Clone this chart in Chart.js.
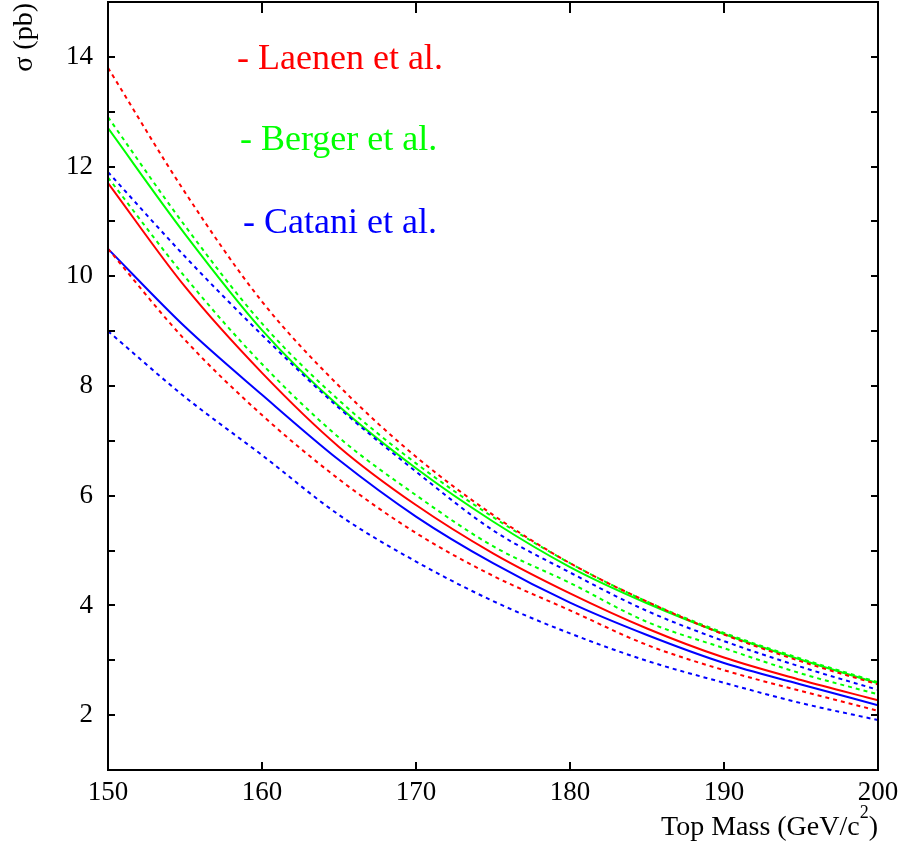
<!DOCTYPE html>
<html>
<head>
<meta charset="utf-8">
<script src="https://cdn.jsdelivr.net/npm/chart.js@4.4.1/dist/chart.umd.min.js"></script>
<style>
    body { margin: 0; background: #fff; }
    #wrap { width: 902px; height: 848px; }
</style>
</head>
<body>
<div id="wrap"><canvas id="myChart"></canvas></div>
<script>
// top mass (GeV/c^2)
const masses = [150, 155, 160, 165, 170, 175, 180, 185, 190, 195, 200];

// cross sections (pb)
const laenen     = [11.7, 9.81, 8.24, 6.89, 5.83, 4.95, 4.22, 3.58, 3.05, 2.64, 2.27];
const laenenUp   = [13.8, 11.53, 9.54, 8.0, 6.71, 5.65, 4.77, 4.07, 3.47, 2.98, 2.56];
const laenenDown = [10.5, 8.84, 7.47, 6.30, 5.32, 4.54, 3.91, 3.28, 2.82, 2.44, 2.08];

const berger     = [12.7, 10.77, 9.02, 7.63, 6.50, 5.53, 4.70, 4.04, 3.48, 3.01, 2.58];
const bergerUp   = [12.9, 10.92, 9.14, 7.74, 6.59, 5.61, 4.77, 4.07, 3.50, 3.03, 2.60];
const bergerDown = [11.8, 9.99, 8.40, 7.06, 6.01, 5.08, 4.41, 3.70, 3.22, 2.76, 2.38];

const catani     = [10.5, 9.08, 7.84, 6.65, 5.62, 4.77, 4.05, 3.46, 2.95, 2.56, 2.18];
const cataniUp   = [11.9, 10.36, 8.93, 7.60, 6.44, 5.37, 4.60, 3.90, 3.35, 2.88, 2.46];
const cataniDown = [9.0, 7.80, 6.74, 5.65, 4.80, 4.08, 3.49, 2.99, 2.59, 2.22, 1.91];

const xTicks = [150, 160, 170, 180, 190, 200];
const yLabels = [2, 4, 6, 8, 10, 12, 14];

const labels = [
    { text: '- Laenen et al.', color: '#ff0000', x: 237, y: 69 },
    { text: '- Berger et al.', color: '#00ff00', x: 240, y: 150 },
    { text: '- Catani et al.', color: '#0000ff', x: 243, y: 233 }
];

const SERIF = '"Liberation Serif", "Times New Roman", serif';

function pts(vals) {
    return vals.map((v, i) => ({ x: masses[i], y: v }));
}

function serie(vals, color, dashed) {
    return {
        data: pts(vals),
        borderColor: color,
        borderWidth: 2,
        borderDash: dashed ? [4, 4] : [],
        pointRadius: 0,
        cubicInterpolationMode: 'monotone',
        fill: false
    };
}

// frame, inward ticks on all sides, annotations and axis titles
const framePlugin = {
    id: 'frame',
    afterDatasetsDraw(chart) {
        const ctx = chart.ctx;
        const a = chart.chartArea;
        const xs = chart.scales.x, ys = chart.scales.y;
        ctx.save();
        ctx.strokeStyle = '#000';
        ctx.lineWidth = 2;
        ctx.strokeRect(a.left, a.top, a.right - a.left, a.bottom - a.top);

        ctx.beginPath();
        xTicks.forEach(t => {
            const px = Math.round(xs.getPixelForValue(t));
            ctx.moveTo(px, a.bottom); ctx.lineTo(px, a.bottom - 8);
            ctx.moveTo(px, a.top); ctx.lineTo(px, a.top + 11);
        });
        for (let v = 2; v <= 14; v++) {
            const py = Math.round(ys.getPixelForValue(v));
            ctx.moveTo(a.left, py); ctx.lineTo(a.left + 7, py);
            ctx.moveTo(a.right, py); ctx.lineTo(a.right - 7, py);
        }
        ctx.stroke();

        // author labels
        ctx.font = '36px ' + SERIF;
        ctx.textAlign = 'left';
        ctx.textBaseline = 'alphabetic';
        labels.forEach(l => {
            ctx.fillStyle = l.color;
            ctx.fillText(l.text, l.x, l.y);
        });

        // x title with superscript
        ctx.fillStyle = '#000';
        ctx.font = '28px ' + SERIF;
        const p1 = 'Top Mass (GeV/c', p3 = ')';
        const w1 = ctx.measureText(p1).width;
        const w3 = ctx.measureText(p3).width;
        ctx.font = '18px ' + SERIF;
        const w2 = ctx.measureText('2').width;
        let x0 = a.right - (w1 + w2 + w3);
        ctx.font = '28px ' + SERIF;
        ctx.fillText(p1, x0, 835);
        ctx.fillText(p3, x0 + w1 + w2, 835);
        ctx.font = '18px ' + SERIF;
        ctx.fillText('2', x0 + w1, 818);

        // y title
        ctx.font = '28px ' + SERIF;
        ctx.translate(32, 3);
        ctx.rotate(-Math.PI / 2);
        ctx.textAlign = 'right';
        ctx.fillText('σ (pb)', 0, 0);
        ctx.restore();
    }
};

document.addEventListener('DOMContentLoaded', function () {
    const ctx = document.getElementById('myChart').getContext('2d');

    new Chart(ctx, {
        type: 'line',
        data: {
            datasets: [
                serie(laenenUp, '#ff0000', true),
                serie(laenenDown, '#ff0000', true),
                serie(bergerUp, '#00ff00', true),
                serie(bergerDown, '#00ff00', true),
                serie(cataniUp, '#0000ff', true),
                serie(cataniDown, '#0000ff', true),
                serie(laenen, '#ff0000', false),
                serie(berger, '#00ff00', false),
                serie(catani, '#0000ff', false)
            ]
        },
        options: {
            responsive: true,
            maintainAspectRatio: false,
            animation: false,
            layout: { padding: { top: 2, right: 24, left: 0, bottom: 0 } },
            plugins: {
                legend: { display: false },
                tooltip: { enabled: false }
            },
            scales: {
                x: {
                    type: 'linear',
                    min: 150,
                    max: 200,
                    afterFit: s => { s.height = 78; s.paddingLeft = 0; s.paddingRight = 0; },
                    afterBuildTicks: s => { s.ticks = xTicks.map(v => ({ value: v })); },
                    grid: { display: false, drawTicks: false },
                    border: { display: false },
                    ticks: {
                        color: '#000',
                        font: { family: SERIF, size: 27 },
                        padding: 7,
                        maxRotation: 0
                    }
                },
                y: {
                    min: 1,
                    max: 15,
                    afterFit: s => { s.width = 108; s.paddingTop = 0; s.paddingBottom = 0; },
                    afterBuildTicks: s => { s.ticks = yLabels.map(v => ({ value: v })); },
                    grid: { display: false, drawTicks: false },
                    border: { display: false },
                    ticks: {
                        color: '#000',
                        font: { family: SERIF, size: 27 },
                        padding: 15
                    }
                }
            }
        },
        plugins: [framePlugin]
    });
});
</script>
</body>
</html>
